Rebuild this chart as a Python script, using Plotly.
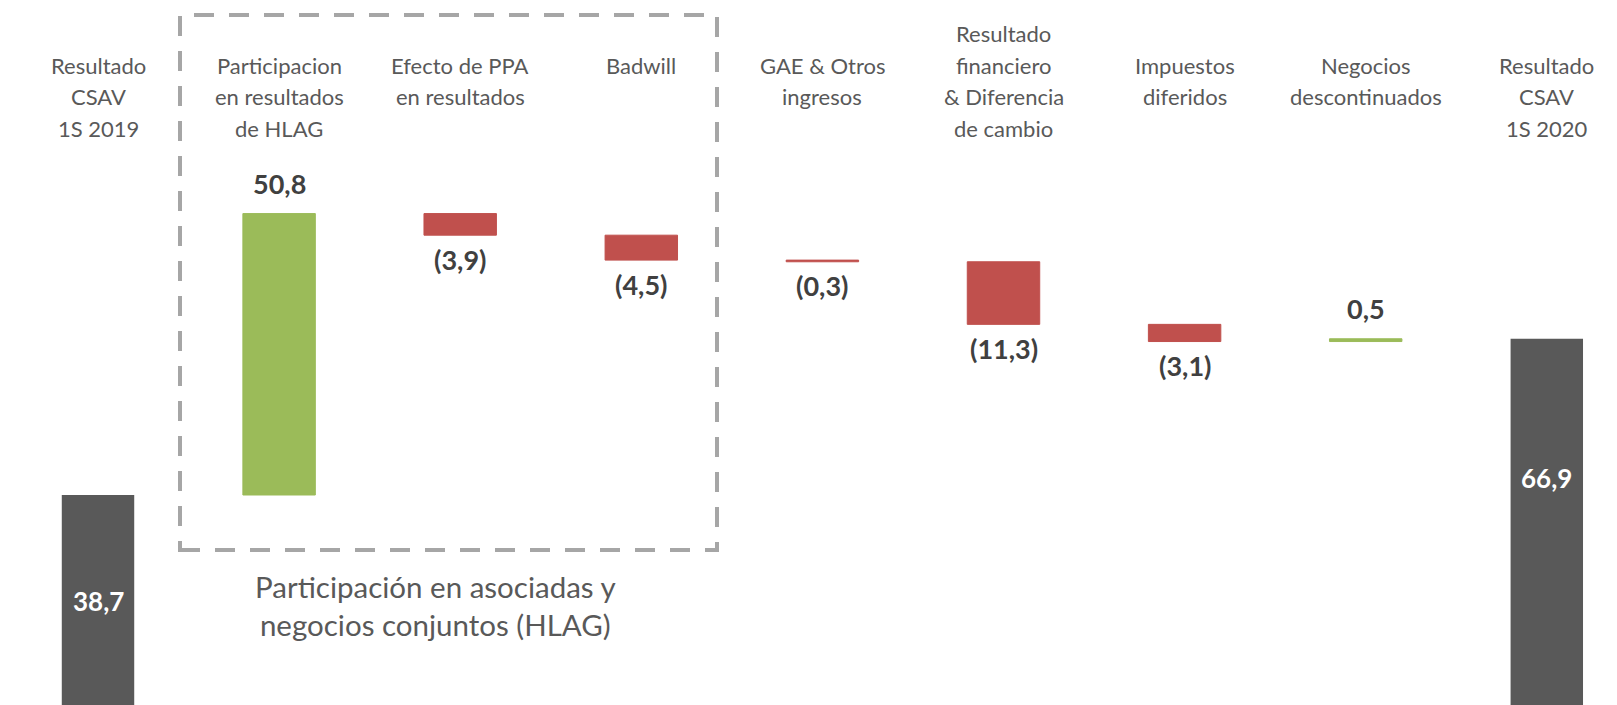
import plotly.graph_objects as go

# ---------------- data ----------------
categories = [
    "Resultado<br>CSAV<br>1S 2019",
    "Participacion<br>en resultados<br>de HLAG",
    "Efecto de PPA<br>en resultados",
    "Badwill",
    "GAE & Otros<br>ingresos",
    "Resultado<br>financiero<br>& Diferencia<br>de cambio",
    "Impuestos<br>diferidos",
    "Negocios<br>descontinuados",
    "Resultado<br>CSAV<br>1S 2020",
]
values = [38.7, 50.8, -3.9, -4.5, -0.3, -11.3, -3.1, 0.5, 66.9]
measures = ["absolute", "relative", "relative", "relative", "relative",
            "relative", "relative", "relative", "total"]
group_label = "Participación en asociadas y<br>negocios conjuntos (HLAG)"

# ---------------- style ----------------
W, H = 1617, 705
GREEN = "#9BBB59"
RED = "#C0504D"
DARK = "#595959"
LABEL_GREY = "#595959"
VALUE_COLOR = "#404040"
BOX_GREY = "#A6A6A6"

Y0_PX = 709.4      # pixel row of value 0
PX_PER = 5.54      # pixels per unit
X0_PX = 98.0       # pixel column of first category centre
X_STEP = 181.1     # pixels per category

yrange = [(Y0_PX - H) / PX_PER, Y0_PX / PX_PER]
xrange = [-X0_PX / X_STEP, (W - X0_PX) / X_STEP]


def fmt(v):
    s = f"{abs(v):.1f}".replace(".", ",")
    return f"({s})" if v < 0 else s


fig = go.Figure(go.Waterfall(
    x=categories,
    y=values,
    measure=measures,
    width=[0.4] * len(values),
    increasing=dict(marker=dict(color=GREEN, line=dict(color=GREEN, width=1))),
    decreasing=dict(marker=dict(color=RED, line=dict(color=RED, width=1))),
    totals=dict(marker=dict(color=DARK, line=dict(color=DARK, width=0))),
    connector=dict(visible=False),
    textinfo="none",
    hoverinfo="skip",
))

annotations = []

# category labels (one annotation per line)
LINE1_PX = 65
LINE_STEP = 31.5
for c in categories:
    lines = c.split("<br>")
    start = LINE1_PX - (LINE_STEP if len(lines) >= 4 else 0)
    for k, ln in enumerate(lines):
        annotations.append(dict(
            x=c, xref="x", y=1 - (start + k * LINE_STEP) / H, yref="paper",
            text=ln, showarrow=False, xanchor="center", yanchor="middle",
            font=dict(family="Lato", size=22, color=LABEL_GREY),
        ))

# value labels
running = 0.0
TOTAL_LABEL_PX = {0: 601, len(values) - 1: 478}
for i, (c, v, m) in enumerate(zip(categories, values, measures)):
    if m in ("absolute", "total"):
        if m == "absolute":
            running = v
        annotations.append(dict(
            x=c, xref="x", y=1 - TOTAL_LABEL_PX[i] / H, yref="paper",
            text=fmt(running), showarrow=False, xanchor="center", yanchor="middle",
            font=dict(family="Lato", size=26, color="white", weight="bold"),
        ))
    else:
        end = running + v
        running = end
        annotations.append(dict(
            x=c, xref="x", y=end, yref="y",
            yshift=30 if v > 0 else -24,
            text=fmt(v), showarrow=False, xanchor="center", yanchor="middle",
            font=dict(family="Lato", size=27, color=VALUE_COLOR, weight="bold"),
        ))

# group label under dashed box
annotations.append(dict(
    x=435 / W, xref="paper", y=1 - 605 / H, yref="paper",
    text=group_label, showarrow=False, xanchor="center", yanchor="middle",
    font=dict(family="Lato", size=29.5, color=LABEL_GREY),
))

fig.update_layout(
    width=W, height=H,
    margin=dict(l=0, r=0, t=0, b=0),
    paper_bgcolor="white", plot_bgcolor="white",
    showlegend=False,
    xaxis=dict(visible=False, range=xrange, type="category"),
    yaxis=dict(visible=False, range=yrange),
    annotations=annotations,
    shapes=[dict(
        type="rect", xref="paper", yref="paper",
        x0=180 / W, x1=717 / W, y0=1 - 550 / H, y1=1 - 15 / H,
        line=dict(color=BOX_GREY, width=4, dash="20px,15px"),
        fillcolor="rgba(0,0,0,0)", layer="below",
    )],
)

fig.write_html(
    "out.html",
    config={"displayModeBar": False},
    post_script="document.body.style.margin='0';document.body.style.overflow='hidden';",
)
